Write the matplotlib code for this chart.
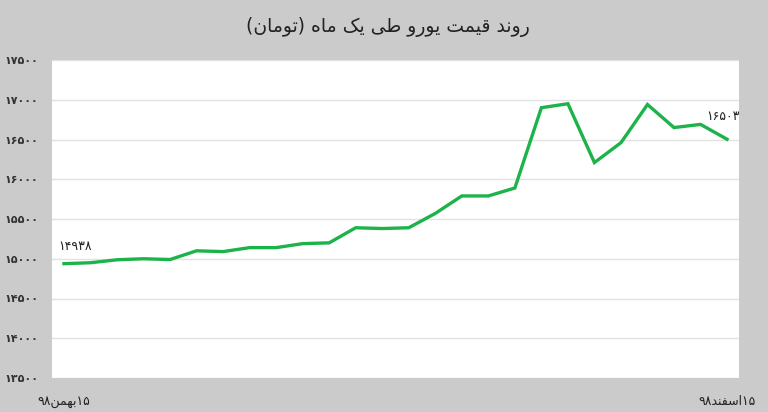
import numpy as np
import matplotlib
matplotlib.use("Agg")
import matplotlib.pyplot as plt

# euro price over one month (toman)
prices = [14938, 14950, 14987, 15000, 14990, 15100, 15090, 15140, 15140, 15190,
          15200, 15390, 15380, 15390, 15570, 15790, 15790, 15890, 16900, 16950,
          16210, 16460, 16940, 16650, 16690, 16503]
y_ticks = [13500, 14000, 14500, 15000, 15500, 16000, 16500, 17000, 17500]

FA_DIGITS = str.maketrans("0123456789", "۰۱۲۳۴۵۶۷۸۹")


def fa_num(n):
    return str(n).translate(FA_DIGITS)


def rtl(codes):
    # codes are presentation-form glyphs in logical order; draw them right to left
    return "".join(chr(c) for c in reversed(codes))


# shaped words (logical order)
w_ravand = rtl([0xFEAD, 0xFEED, 0xFEE7, 0xFEAA])
w_gheymat = rtl([0xFED7, 0xFEF4, 0xFEE4, 0xFE96])
w_yuro = rtl([0xFEF3, 0xFEEE, 0xFEAD, 0xFEED])
w_tey = rtl([0xFEC3, 0xFEF0])
w_yek = rtl([0xFEF3, 0xFB8F])
w_mah = rtl([0xFEE3, 0xFE8E, 0xFEE9])
w_tuman = rtl([0xFE97, 0xFEEE, 0xFEE3, 0xFE8E, 0xFEE5])
w_bahman = rtl([0xFE91, 0xFEEC, 0xFEE4, 0xFEE6])
w_esfand = rtl([0xFE8D, 0xFEB3, 0xFED4, 0xFEE8, 0xFEAA])

title = " ".join(["(" + w_tuman + ")", w_mah, w_yek, w_tey, w_yuro, w_gheymat, w_ravand])
x_labels = [fa_num(98) + w_bahman + fa_num(15), fa_num(98) + w_esfand + fa_num(15)]

plt.rcParams['font.family'] = ['DejaVu Sans']

bg = "#cbcbcb"
fig = plt.figure(figsize=(7.68, 4.12), dpi=100, facecolor=bg)
ax = fig.add_axes([52 / 768, 1 - 378 / 412, 687 / 768, 318 / 412])
ax.set_facecolor("white")

x = np.arange(len(prices))
ax.plot(x, prices, color="#1db34b", lw=2.4, solid_joinstyle="miter", zorder=3)

ax.set_xlim(-0.45, len(prices) - 0.55)
ax.set_ylim(13500, 17500)
ax.set_yticks(y_ticks)
ax.set_yticklabels([fa_num(v) for v in y_ticks], fontsize=8, fontweight="bold", color="#333333")
ax.set_xticks([0, len(prices) - 1])
ax.set_xticklabels(x_labels, fontsize=9, color="#222222")
ax.tick_params(length=0, axis="y", pad=10)
ax.tick_params(length=0, axis="x", pad=12)
ax.grid(axis="y", color="#e2e2e2", lw=1)
for s in ax.spines.values():
    s.set_visible(False)

ax.annotate(fa_num(prices[0]), (0, prices[0]), xytext=(-4, 8), textcoords="offset points",
            fontsize=9, color="#222222", ha="left", va="bottom")
ax.annotate(fa_num(prices[-1]), (len(prices) - 1, prices[-1]), xytext=(9, 12), textcoords="offset points",
            fontsize=9, color="#222222", ha="right", va="bottom")

fig.text(0.505, 1 - 27 / 412, title, ha="center", va="center", fontsize=13.5, color="#222222")

fig.savefig("out.png", dpi=100, facecolor=bg)
